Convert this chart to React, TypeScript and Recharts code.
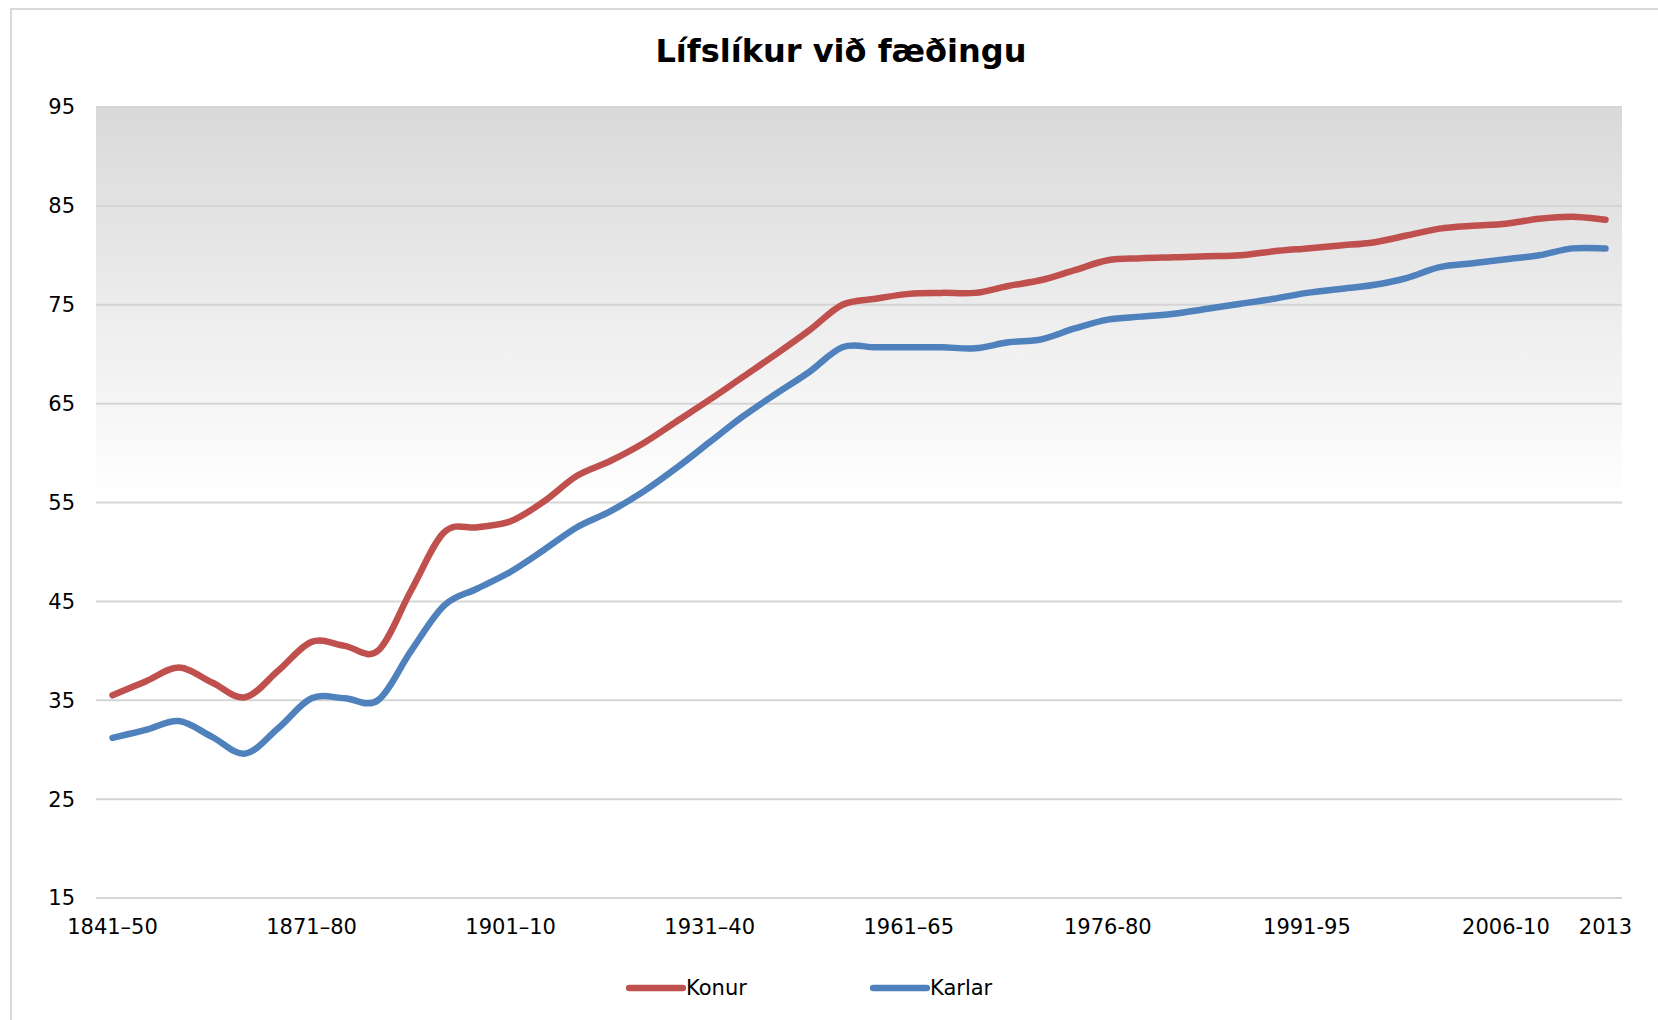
import { LineChart, Line, XAxis, YAxis, CartesianGrid } from "recharts"

const periods = [
  "1841–50", "1846–55", "1851–60", "1856–65", "1861–70", "1866–75",
  "1871–80", "1876–85", "1881–90", "1886–95", "1891–1900", "1896–1905",
  "1901–10", "1906–15", "1911–20", "1916–25", "1921–30", "1926–35",
  "1931–40", "1936–45", "1941–50", "1946–55", "1951–55", "1956–60",
  "1961–65", "1963–67", "1966–70", "1968–72", "1971–75", "1973–77",
  "1976-80", "1978-82", "1981-85", "1983-87", "1986-90", "1988-92",
  "1991-95", "1993-97", "1996-00", "1998-02", "2001-05", "2003-07",
  "2006-10", "2011", "2012", "2013",
]

const konur = [
  35.5, 36.9, 38.3, 36.8, 35.3, 38.0,
  40.9, 40.5, 40.0, 46.1, 52.0, 52.5,
  53.1, 55.1, 57.7, 59.2, 61.0, 63.2,
  65.4, 67.7, 70.0, 72.4, 75.0, 75.6,
  76.1, 76.2, 76.2, 76.9, 77.5, 78.5,
  79.5, 79.7, 79.8, 79.9, 80.0, 80.4,
  80.7, 81.0, 81.3, 82.0, 82.7, 83.0,
  83.2, 83.7, 83.9, 83.6,
]

const karlar = [
  31.2, 32.0, 32.9, 31.3, 29.6, 32.2,
  35.2, 35.2, 35.0, 40.0, 44.6, 46.3,
  48.0, 50.2, 52.5, 54.1, 56.1, 58.5,
  61.1, 63.7, 66.0, 68.2, 70.7, 70.7,
  70.7, 70.7, 70.6, 71.2, 71.5, 72.6,
  73.5, 73.8, 74.1, 74.6, 75.1, 75.6,
  76.2, 76.6, 77.0, 77.7, 78.8, 79.2,
  79.6, 80.0, 80.7, 80.7,
]

const shownTicks = ["1841–50", "1871–80", "1901–10", "1931–40", "1961–65", "1976-80", "1991-95", "2006-10", "2013"]
const yTicks = [15, 25, 35, 45, 55, 65, 75, 85, 95]

const series = [
  { key: "konur", name: "Konur", color: "#C0504D" },
  { key: "karlar", name: "Karlar", color: "#4F81BD" },
]

const rows = periods.map((period, i) => ({ period, konur: konur[i], karlar: karlar[i] }))

const FONT = "'DejaVu Sans', Verdana, sans-serif"

// smoothed line like the spreadsheet one (catmull-rom through the points)
const smoothCurve = (context: any) => {
  let pts: number[][] = []
  return {
    areaStart() {},
    areaEnd() {},
    lineStart() { pts = [] },
    point(x: number, y: number) { pts.push([+x, +y]) },
    lineEnd() {
      if (!pts.length) return
      context.moveTo(pts[0][0], pts[0][1])
      for (let i = 0; i < pts.length - 1; i++) {
        const p0 = pts[i - 1] || pts[i]
        const p1 = pts[i]
        const p2 = pts[i + 1]
        const p3 = pts[i + 2] || p2
        context.bezierCurveTo(
          p1[0] + (p2[0] - p0[0]) / 6, p1[1] + (p2[1] - p0[1]) / 6,
          p2[0] - (p3[0] - p1[0]) / 6, p2[1] - (p3[1] - p1[1]) / 6,
          p2[0], p2[1],
        )
      }
    },
  }
}

const legendPos = [626, 870]

export default function App() {
  return (
    <div style={{ position: "absolute", left: 0, top: 0, width: 1658, height: 1020, overflow: "hidden", background: "#fff" }}>
      <div style={{ position: "absolute", left: 10, top: 8, width: 1700, height: 1100, border: "2px solid #d9d9d9" }} />
      <div style={{ position: "absolute", left: 0, top: 0 }}>
        <LineChart width={1658} height={1020} data={rows} margin={{ top: 107, right: 36, bottom: 92, left: 0 }}>
          <defs>
            <linearGradient id="plotBg" x1="0" y1="0" x2="0" y2="1">
              <stop offset="0%" stopColor="#d9d9d9" />
              <stop offset="50%" stopColor="#ffffff" />
              <stop offset="100%" stopColor="#ffffff" />
            </linearGradient>
          </defs>
          <text x={841} y={62} textAnchor="middle" fontFamily={FONT} fontWeight="bold" fontSize={32} fill="#000">
            Lífslíkur við fæðingu
          </text>
          <CartesianGrid vertical={false} stroke="#d5d5d5" strokeWidth={2} fill="url(#plotBg)" fillOpacity={1} />
          <XAxis
            dataKey="period"
            height={30}
            ticks={shownTicks}
            interval={0}
            axisLine={false}
            tickLine={false}
            tickSize={0}
            tickMargin={21}
            padding={{ left: 16.5, right: 16.5 }}
            tick={{ fill: "#000", fontSize: 21, fontFamily: FONT }}
          />
          <YAxis
            width={96}
            domain={[15, 95]}
            ticks={yTicks}
            axisLine={false}
            tickLine={false}
            tickSize={0}
            tickMargin={21}
            tick={{ fill: "#000", fontSize: 21, fontFamily: FONT }}
          />
          {series.map(s => (
            <Line
              key={s.key}
              dataKey={s.key}
              name={s.name}
              type={smoothCurve as any}
              stroke={s.color}
              strokeWidth={6.5}
              strokeLinecap="round"
              dot={false}
              activeDot={false}
              isAnimationActive={false}
            />
          ))}
        </LineChart>
      </div>
      {series.map((s, i) => (
        <div key={s.key} style={{ position: "absolute", left: legendPos[i], top: 974, height: 28, display: "flex", alignItems: "center", fontFamily: FONT, fontSize: 21, color: "#000" }}>
          <svg width={60} height={28} style={{ display: "block" }}>
            <line x1={3} y1={14} x2={57} y2={14} stroke={s.color} strokeWidth={6.5} strokeLinecap="round" />
          </svg>
          <span>{s.name}</span>
        </div>
      ))}
    </div>
  )
}
